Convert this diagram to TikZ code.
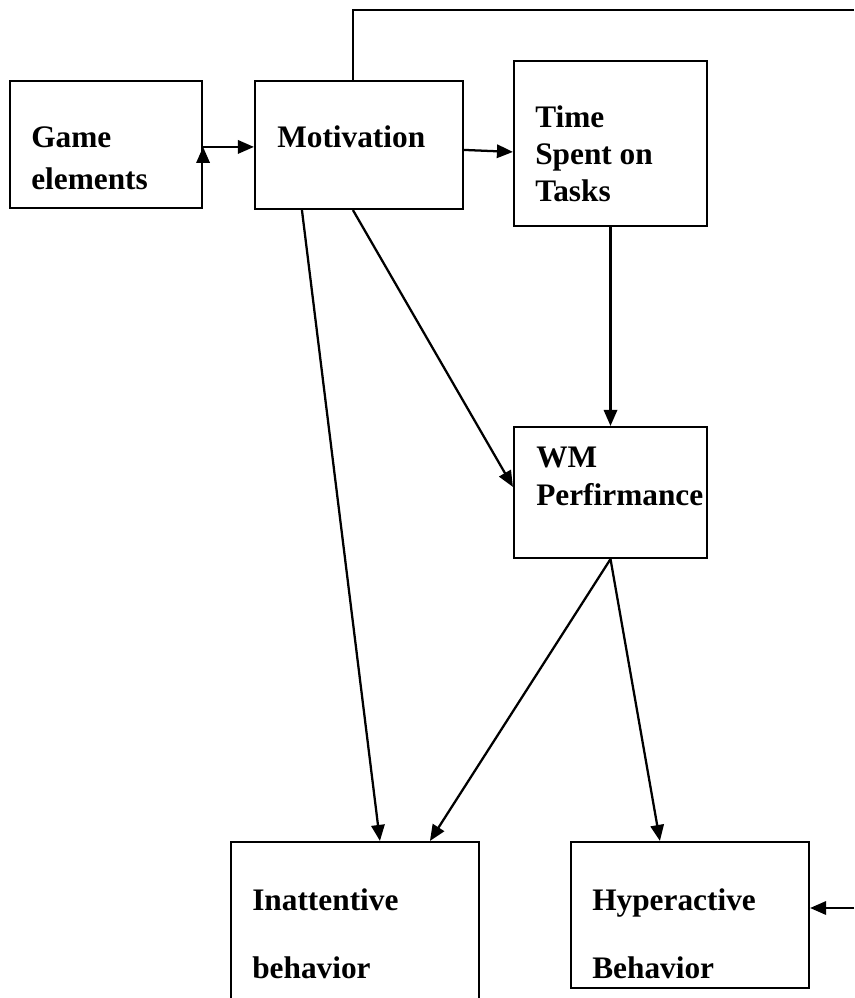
\documentclass[tikz,border=0pt]{standalone}
\usepackage{fontspec}
\setmainfont{Liberation Serif}
\usetikzlibrary{arrows.meta,fit,calc}

\begin{document}
\begin{tikzpicture}[x=0.75pt,y=-0.75pt,
        box/.style={draw,line width=1.6pt,inner sep=0pt},
        txt/.style={inner sep=0pt,anchor=base west,align=left,font=\bfseries\fontsize{23.5}{31.5}\selectfont},
        arr/.style={line width=1.7pt,-{Triangle[length=12pt,width=10pt]}}]
    \clip (0,0) rectangle (854,998);

    % boxes
    \node[box,fit={(10,81)(202,208)}] (game) {};
    \node[box,fit={(255,81)(463,209)}] (motiv) {};
    \node[box,fit={(514,61)(707,226)}] (time) {};
    \node[box,fit={(514,427)(707,558)}] (wm) {};
    \node[box,fit={(231,842)(479,1010)}] (inatt) {};
    \node[box,fit={(571,842)(809,988)}] (hyper) {};

    % texts (base = last line)
    \node[txt] (gameTxt) at (31,190) {Game\\elements};
    \node[txt] (motivTxt) at (277,148) {Motivation};
    \node[txt,font=\bfseries\fontsize{23.5}{27.75}\selectfont] (timeTxt) at (535,202) {Time\\Spent on\\Tasks};
    \node[txt,font=\bfseries\fontsize{23.5}{28.5}\selectfont] (wmTxt) at (536,505) {WM\\Perfirmance};
    \node[txt,font=\bfseries\fontsize{23.5}{51}\selectfont] (inattTxt) at (252,978) {Inattentive\\behavior};
    \node[txt,font=\bfseries\fontsize{23.5}{51}\selectfont] (hyperTxt) at (592,978) {Hyperactive\\Behavior};

    % connectors
    \coordinate (topEnd) at (854,10);
    \coordinate (rightEnd) at (854,908);
    \draw[arr] ($(game.north east)+(0,67)$) coordinate (g1) -- (g1 -| motiv.west);
    \draw[arr] ($(g1)+(0,15)$) -- (g1);
    \draw[arr] ($(motiv.north east)+(0,70)$) -- ($(time.north west)+(0,92)$);
    \draw[arr] (time.south) -- (wm.north);
    \draw[arr] ($(motiv.south west)+(99,0)$) -- ($(wm.north west)+(0,61)$);
    \draw[arr] ($(motiv.south west)+(48,0)$) -- ($(inatt.north west)+(150,0)$);
    \draw[arr] (wm.south) -- ($(inatt.north west)+(200,0)$);
    \draw[arr] (wm.south) -- ($(hyper.north west)+(90,0)$);
    \draw[line width=1.6pt] ($(motiv.north west)+(99,0)$) |- (topEnd);
    \draw[arr] (rightEnd) -- (rightEnd -| hyper.east);
\end{tikzpicture}
\end{document}
